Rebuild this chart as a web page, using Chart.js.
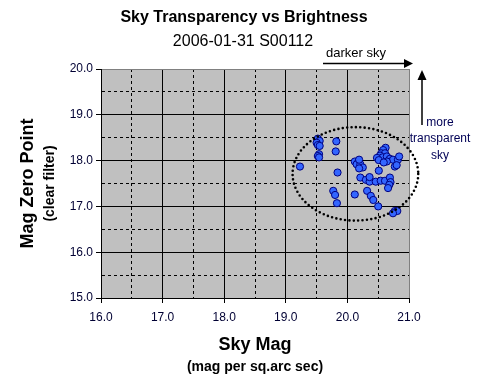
<!DOCTYPE html>
<html>
<head>
<meta charset="utf-8">
<script src="https://cdn.jsdelivr.net/npm/chart.js@4.4.1/dist/chart.umd.min.js"></script>
<style>
  html, body { margin: 0; padding: 0; background: #fff; }
  canvas { display: block; }
</style>
</head>
<body>
<canvas id="c" width="488" height="391"></canvas>
<script>
// ---- data ----
const skyMag = [
  19.52, 19.55, 19.50, 19.52, 19.55, 19.54, 19.52, 19.54,
  19.82, 19.81, 19.23, 19.84, 19.77, 19.80, 19.83, 20.12,
  20.12, 20.18, 20.15, 20.21, 20.25, 20.19, 20.19,
  20.21, 20.30, 20.36, 20.46, 20.54, 20.61, 20.69, 20.70, 20.68, 20.66, 20.36,
  20.51,
  20.32, 20.38, 20.42, 20.50,
  20.77, 20.81, 20.74,
  20.62, 20.58, 20.55, 20.61, 20.53, 20.57, 20.64, 20.69, 20.74, 20.82, 20.84, 20.77, 20.64,
  20.48, 20.51, 20.59, 20.80
];
const magZeroPoint = [
  18.48, 18.43, 18.39, 18.34, 18.32, 18.14, 18.10, 18.07,
  18.42, 18.20, 17.87, 17.74, 17.34, 17.25, 17.07, 17.26,
  17.98, 17.98, 17.92, 17.92, 17.85, 17.83, 18.02,
  17.63, 17.58, 17.54, 17.54, 17.56, 17.56, 17.63, 17.53, 17.47, 17.40, 17.64,
  17.78,
  17.34, 17.23, 17.14, 17.00,
  16.90, 16.90, 16.85,
  18.28, 18.23, 18.16, 18.16, 18.11, 18.07, 18.09, 18.04, 18.02, 18.02, 18.09, 17.87, 17.98,
  18.06, 18.01, 17.96, 17.90
];
const xRange = [16, 21];
const yRange = [15, 20];
const ellipseCenter = [20.13, 17.71];
const ellipseRadius = [1.02, 1.02];
const titleText = 'Sky Transparency vs Brightness';
const subtitleText = '2006-01-31 S00112';
const xTitle = ['Sky Mag', '(mag per sq.arc sec)'];
const yTitle = ['Mag Zero Point', '(clear filter)'];
const arrowRightText = 'darker sky';
const arrowUpText = ['more', 'transparent', 'sky'];

const points = skyMag.map((x, i) => ({ x: x, y: magZeroPoint[i] }));
const FONT = '"Liberation Sans", Arial, sans-serif';

function isHalf(v) { return Math.abs(v - Math.round(v)) > 1e-6; }

const decorPlugin = {
  id: 'decor',
  beforeDraw(chart) {
    const { ctx, chartArea: a } = chart;
    ctx.save();
    ctx.fillStyle = '#c0c0c0';
    ctx.fillRect(a.left, a.top, a.right - a.left, a.bottom - a.top);
    ctx.restore();
  },
  afterDraw(chart) {
    const { ctx, chartArea: a, scales } = chart;
    const xs = scales.x, ys = scales.y;
    ctx.save();
    // ellipse (dotted)
    const cx = xs.getPixelForValue(ellipseCenter[0]);
    const cy = ys.getPixelForValue(ellipseCenter[1]);
    const rx = xs.getPixelForValue(ellipseCenter[0] + ellipseRadius[0]) - cx;
    const ry = cy - ys.getPixelForValue(ellipseCenter[1] + ellipseRadius[1]);
    ctx.beginPath();
    ctx.ellipse(cx, cy, rx, ry, 0, 0, Math.PI * 2);
    ctx.strokeStyle = '#000';
    ctx.lineWidth = 2.6;
    ctx.lineCap = 'round';
    ctx.setLineDash([0, 4.4]);
    ctx.stroke();
    ctx.setLineDash([]);
    ctx.lineCap = 'butt';

    // titles
    ctx.fillStyle = '#000';
    ctx.textAlign = 'center';
    ctx.textBaseline = 'middle';
    ctx.font = 'bold 16px ' + FONT;
    ctx.fillText(titleText, 244, 17.5);
    ctx.font = '16px ' + FONT;
    ctx.fillText(subtitleText, 243, 41.5);

    // x axis titles
    const xc = (a.left + a.right) / 2;
    ctx.font = 'bold 18px ' + FONT;
    ctx.fillText(xTitle[0], xc, a.bottom + 47);
    ctx.font = 'bold 14px ' + FONT;
    ctx.fillText(xTitle[1], xc, a.bottom + 69);

    // y axis titles
    const yc = (a.top + a.bottom) / 2;
    ctx.save();
    ctx.translate(a.left - 73, yc);
    ctx.rotate(-Math.PI / 2);
    ctx.font = 'bold 18px ' + FONT;
    ctx.fillText(yTitle[0], 0, 0);
    ctx.restore();
    ctx.save();
    ctx.translate(a.left - 51, yc);
    ctx.rotate(-Math.PI / 2);
    ctx.font = 'bold 14px ' + FONT;
    ctx.fillText(yTitle[1], 0, 0);
    ctx.restore();

    // "darker sky" arrow
    const ay = a.top - 5.5;
    ctx.strokeStyle = '#000';
    ctx.fillStyle = '#000';
    ctx.lineWidth = 1.5;
    ctx.beginPath();
    ctx.moveTo(a.left + 222, ay);
    ctx.lineTo(a.right - 2, ay);
    ctx.stroke();
    ctx.beginPath();
    ctx.moveTo(a.right + 4, ay);
    ctx.lineTo(a.right - 5, ay - 4.5);
    ctx.lineTo(a.right - 5, ay + 4.5);
    ctx.closePath();
    ctx.fill();
    ctx.font = '13px ' + FONT;
    ctx.fillText(arrowRightText, a.left + 255, a.top - 16);

    // "more transparent sky" arrow
    const ax = a.right + 13;
    ctx.beginPath();
    ctx.moveTo(ax, a.top + 8);
    ctx.lineTo(ax, a.top + 56);
    ctx.stroke();
    ctx.beginPath();
    ctx.moveTo(ax, a.top + 1);
    ctx.lineTo(ax - 4.5, a.top + 11);
    ctx.lineTo(ax + 4.5, a.top + 11);
    ctx.closePath();
    ctx.fill();
    ctx.fillStyle = '#000055';
    ctx.font = '12px ' + FONT;
    ctx.fillText(arrowUpText[0], a.right + 31, a.top + 54);
    ctx.fillText(arrowUpText[1], a.right + 31, a.top + 70);
    ctx.fillText(arrowUpText[2], a.right + 31, a.top + 87);
    ctx.restore();
  }
};

function gridColorX(ctx) {
  if (!ctx.tick) return '#000';
  return Math.abs(ctx.tick.value - xRange[1]) < 1e-6 ? '#808080' : '#000';
}
function gridColorY(ctx) {
  if (!ctx.tick) return '#000';
  return Math.abs(ctx.tick.value - yRange[1]) < 1e-6 ? '#808080' : '#000';
}
function tickCol(ctx) {
  if (!ctx.tick) return '#000';
  return isHalf(ctx.tick.value) ? 'rgba(0,0,0,0)' : '#000';
}
function dashFn(ctx) {
  if (!ctx.tick) return [];
  return isHalf(ctx.tick.value) ? [3, 3] : [];
}
function label(v) { return isHalf(v) ? '' : Number(v).toFixed(1); }

new Chart(document.getElementById('c'), {
  type: 'scatter',
  data: {
    datasets: [{
      data: points,
      backgroundColor: '#3366ff',
      borderColor: '#000080',
      borderWidth: 1,
      pointRadius: 3.6,
      pointHoverRadius: 3.6,
      pointStyle: 'circle'
    }]
  },
  options: {
    responsive: false,
    animation: false,
    devicePixelRatio: 1,
    events: [],
    layout: { padding: { top: 69, right: 79, left: 0, bottom: 0 } },
    plugins: { legend: { display: false }, title: { display: false }, tooltip: { enabled: false } },
    scales: {
      x: {
        type: 'linear',
        min: xRange[0], max: xRange[1],
        afterFit(s) { s.height = 93; },
        ticks: {
          stepSize: 0.5, autoSkip: false, maxRotation: 0, padding: 7,
          color: '#000033', font: { family: FONT, size: 12 },
          callback: label
        },
        grid: { color: gridColorX, lineWidth: 1, tickLength: 5, tickColor: tickCol, tickWidth: 1 },
        border: { color: '#000', width: 1, dash: dashFn }
      },
      y: {
        type: 'linear',
        min: yRange[0], max: yRange[1],
        afterFit(s) { s.width = 101; },
        ticks: {
          stepSize: 0.5, autoSkip: false, padding: 3,
          color: '#000033', font: { family: FONT, size: 12 },
          callback: label
        },
        grid: { color: gridColorY, lineWidth: 1, tickLength: 5, tickColor: tickCol, tickWidth: 1 },
        border: { color: '#000', width: 1, dash: dashFn }
      }
    }
  },
  plugins: [decorPlugin]
});
</script>
</body>
</html>
